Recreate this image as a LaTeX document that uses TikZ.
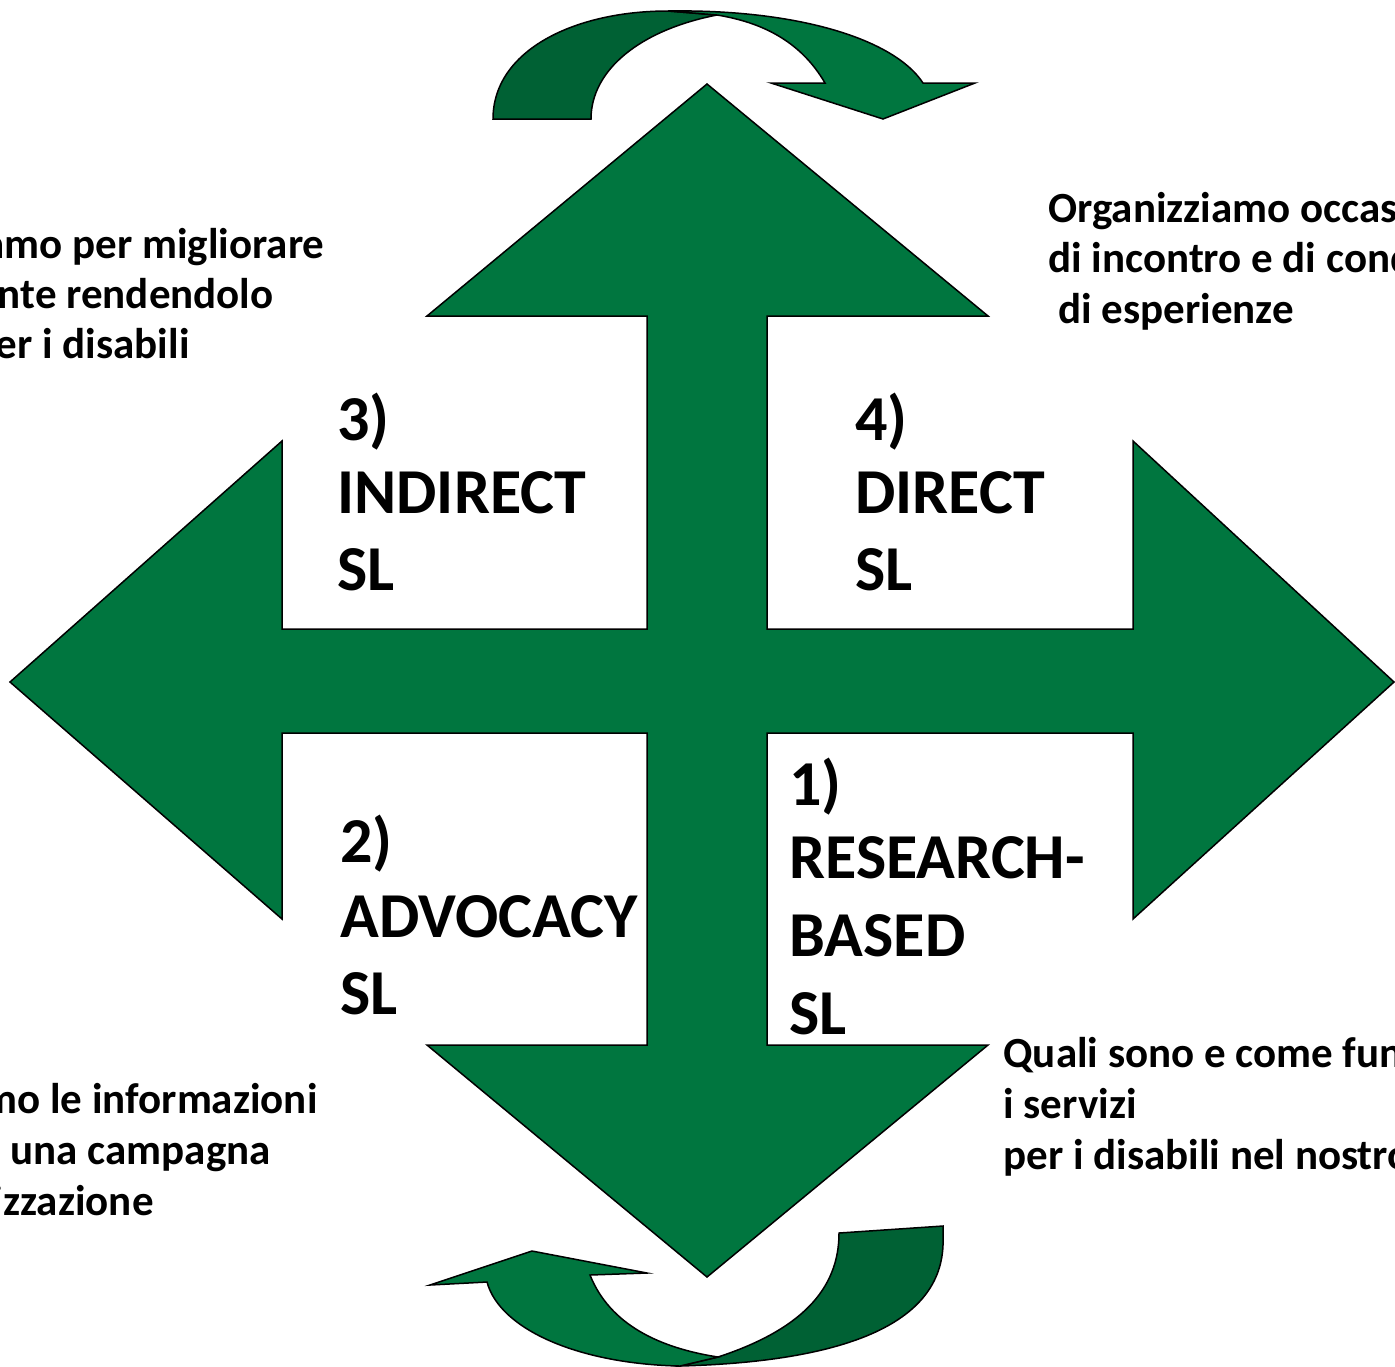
\documentclass[tikz,border=0pt]{standalone}
\usepackage{fontspec}
\setmainfont{Carlito}
\definecolor{grn}{RGB}{0,118,63}
\definecolor{dgrn}{RGB}{0,97,52}
\begin{document}
\begin{tikzpicture}[x=0.5pt,y=-0.5pt,
  greenshape/.style={draw=black,line width=0.75pt,line join=miter},
  small/.style={font=\fontsize{21.5}{25}\selectfont\bfseries,inner sep=0pt},
  big/.style={font=\fontsize{32}{38.5}\selectfont\bfseries,inner sep=0pt}]
\clip (0,0) rectangle (1395,1366);
% cross of four arrows
\filldraw[greenshape,fill=grn] (707,84) -- (988,316) -- (767,316) -- (767,629) -- (1133,629) -- (1133,441)
  -- (1394,682) -- (1133,919) -- (1133,733) -- (767,733) -- (767,1045) -- (988,1045) -- (707,1277)
  -- (427,1045) -- (647,1045) -- (647,733) -- (282,733) -- (282,919) -- (10,682) -- (282,441)
  -- (282,629) -- (647,629) -- (647,316) -- (427,316) -- cycle;
% top curved arrow
\filldraw[greenshape,fill=dgrn] (493,119) .. controls (493,50) and (575,11) .. (668,11) -- (717,15)
  .. controls (640,30) and (591,70) .. (591,119) -- cycle;
\filldraw[greenshape,fill=grn] (668,11) .. controls (800,9) and (895,40) .. (923,83) -- (975,83) -- (883,119)
  -- (771,83) -- (825,83) .. controls (800,40) and (760,22) .. (717,15) -- cycle;
% bottom curved arrow
\filldraw[greenshape,fill=dgrn] (839,1233) -- (943,1226) -- (943,1245) .. controls (940,1330) and (830,1362) .. (680,1366)
  -- (718,1357) .. controls (800,1330) and (839,1290) .. (839,1233) -- cycle;
\filldraw[greenshape,fill=grn] (680,1366) .. controls (580,1364) and (500,1330) .. (487,1282) -- (430,1285)
  -- (532,1251) -- (647,1273) -- (590,1275) .. controls (610,1325) and (660,1348) .. (718,1357) -- cycle;
% quadrant labels
\node[big,anchor=base west] (q3a) at (337,440) {3)};
\node[big,anchor=base west] (q3b) at (337,513) {INDIRECT};
\node[big,anchor=base west] (q3c) at (337,590) {SL};
\node[big,anchor=base west] (q4a) at (855,440) {4)};
\node[big,anchor=base west] (q4b) at (855,513) {DIRECT};
\node[big,anchor=base west] (q4c) at (855,590) {SL};
\node[big,anchor=base west] (q2a) at (340,862) {2)};
\node[big,anchor=base west] (q2b) at (340,937) {ADVOCACY};
\node[big,anchor=base west] (q2c) at (340,1014) {SL};
\node[big,anchor=base west] (q1a) at (789,805) {1)};
\node[big,anchor=base west] (q1b) at (789,878) {RESEARCH-};
\node[big,anchor=base west] (q1c) at (789,956) {BASED};
\node[big,anchor=base west] (q1d) at (789,1034) {SL};
% side texts
\node[small,anchor=base east] (tl1) at (325,258) {iamo per migliorare};
\node[small,anchor=base east] (tl2) at (274,308) {nte rendendolo};
\node[small,anchor=base east] (tl3) at (190,358) {er i disabili};
\node[small,anchor=base east] (bl1) at (318,1113) {mo le informazioni};
\node[small,anchor=base east] (bl2) at (271,1164) {o una campagna};
\node[small,anchor=base east] (bl3) at (154,1215) {izzazione};
\node[small,anchor=base west] (tr1) at (1048,222) {Organizziamo occas};
\node[small,anchor=base west] (tr2) at (1048,272) {di incontro e di cond};
\node[small,anchor=base west] (tr3) at (1058,323) {di esperienze};
\node[small,anchor=base west] (br1) at (1003,1067) {Quali sono e come fun};
\node[small,anchor=base west] (br2) at (1003,1118) {i servizi};
\node[small,anchor=base west] (br3) at (1003,1169) {per i disabili nel nostro};
\end{tikzpicture}
\end{document}
